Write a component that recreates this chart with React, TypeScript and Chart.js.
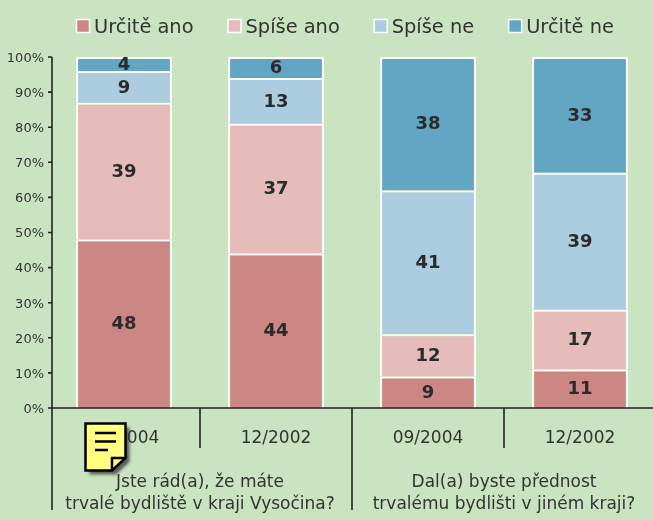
import React, { useEffect, useRef } from "react";
import { Chart, registerables } from "chart.js";

Chart.register(...registerables);

const categories = ["09/2004", "12/2002", "09/2004", "12/2002"];
const seriesNames = ["Určitě ano", "Spíše ano", "Spíše ne", "Určitě ne"];
const urciteAno = [48, 44, 9, 11];
const spiseAno = [39, 37, 12, 17];
const spiseNe = [9, 13, 41, 39];
const urciteNe = [4, 6, 38, 33];
const seriesColors = ["#cc8684", "#e5bcb9", "#abcddf", "#63a6c3"];
const questions = [
  ["Jste rád(a), že máte", "trvalé bydliště v kraji Vysočina?"],
  ["Dal(a) byste přednost", "trvalému bydlišti v jiném kraji?"],
];
const FONT = '"DejaVu Sans", sans-serif';
const INK = "#2b2b2b";

const furniture = {
  id: "furniture",
  afterDatasetsDraw(chart: any) {
    const { ctx, scales, data } = chart;
    const { x, y } = scales;
    const y0 = y.getPixelForValue(0);
    const axisX = x.getPixelForValue(-0.5) + 4;
    ctx.save();

    // data labels
    ctx.font = `bold 18px ${FONT}`;
    ctx.fillStyle = INK;
    ctx.textAlign = "center";
    ctx.textBaseline = "middle";
    data.datasets.forEach((ds: any, di: number) => {
      const meta = chart.getDatasetMeta(di);
      meta.data.forEach((bar: any, i: number) => {
        ctx.fillText(String(ds.data[i]), bar.x, (bar.y + bar.base) / 2 + 1);
      });
    });

    // axes
    ctx.strokeStyle = "#222";
    ctx.lineWidth = 1.6;
    ctx.beginPath();
    ctx.moveTo(axisX, y.getPixelForValue(100));
    ctx.lineTo(axisX, y0);
    y.ticks.forEach((t: any) => {
      const p = y.getPixelForValue(t.value);
      ctx.moveTo(axisX - 4, p);
      ctx.lineTo(axisX, p);
    });
    ctx.moveTo(axisX - 4, y0);
    ctx.lineTo(chart.width, y0);
    ctx.moveTo(axisX, y0);
    ctx.lineTo(axisX, 510);
    [0.5, 1.5, 2.5].forEach((v, i) => {
      const p = x.getPixelForValue(v);
      ctx.moveTo(p, y0);
      ctx.lineTo(p, i === 1 ? 510 : 448);
    });
    ctx.stroke();

    // group questions
    ctx.font = `17px ${FONT}`;
    ctx.fillStyle = "#333";
    questions.forEach((lines, gi) => {
      const cx = (x.getPixelForValue(gi * 2) + x.getPixelForValue(gi * 2 + 1)) / 2;
      lines.forEach((line, li) => ctx.fillText(line, cx, 482.5 + li * 22));
    });

    // legend
    ctx.font = `19.4px ${FONT}`;
    ctx.textAlign = "left";
    let lx = 76.5;
    data.datasets.forEach((ds: any) => {
      ctx.fillStyle = ds.backgroundColor;
      ctx.strokeStyle = "#fff";
      ctx.lineWidth = 1.5;
      ctx.fillRect(lx, 19.5, 13, 13);
      ctx.strokeRect(lx, 19.5, 13, 13);
      ctx.fillStyle = "#333";
      ctx.fillText(ds.label, lx + 17.5, 27.5);
      lx += 18 + ctx.measureText(ds.label).width + 34;
    });

    // note icon
    ctx.save();
    ctx.shadowColor = "rgba(50,50,50,0.75)";
    ctx.shadowBlur = 3;
    ctx.shadowOffsetX = 4;
    ctx.shadowOffsetY = 4;
    ctx.fillStyle = "#ffff80";
    ctx.beginPath();
    ctx.moveTo(85.5, 423.5);
    ctx.lineTo(125.5, 423.5);
    ctx.lineTo(125.5, 458);
    ctx.lineTo(112, 470.5);
    ctx.lineTo(85.5, 470.5);
    ctx.closePath();
    ctx.fill();
    ctx.restore();
    ctx.strokeStyle = "#000";
    ctx.lineWidth = 2.5;
    ctx.beginPath();
    ctx.moveTo(85.5, 423.5);
    ctx.lineTo(125.5, 423.5);
    ctx.lineTo(125.5, 458);
    ctx.lineTo(112, 470.5);
    ctx.lineTo(85.5, 470.5);
    ctx.closePath();
    ctx.moveTo(112, 470);
    ctx.lineTo(112, 458);
    ctx.lineTo(125, 458);
    ctx.moveTo(95, 433);
    ctx.lineTo(116, 433);
    ctx.moveTo(95, 441.5);
    ctx.lineTo(116, 441.5);
    ctx.moveTo(95, 450);
    ctx.lineTo(108, 450);
    ctx.stroke();
    ctx.restore();
  },
};

export default function App() {
  const ref = useRef<HTMLCanvasElement>(null);
  useEffect(() => {
    document.body.style.margin = "0";
    document.body.style.background = "#cae3c0";
    const values = [urciteAno, spiseAno, spiseNe, urciteNe];
    const chart = new Chart(ref.current!, {
      type: "bar",
      data: {
        labels: categories,
        datasets: values.map((v, i) => ({
          label: seriesNames[i],
          data: v,
          backgroundColor: seriesColors[i],
          borderColor: "#ffffff",
          borderWidth: 2,
          barPercentage: 0.63,
          categoryPercentage: 1,
        })),
      },
      plugins: [furniture],
      options: {
        responsive: false,
        animation: false,
        layout: { padding: { top: 57, right: 4, left: 0, bottom: 0 } },
        plugins: { legend: { display: false }, tooltip: { enabled: false } },
        scales: {
          x: {
            stacked: true,
            grid: { display: false, drawTicks: false },
            border: { display: false },
            afterFit(a: any) {
              a.height = 112;
            },
            ticks: {
              padding: 20,
              maxRotation: 0,
              font: { family: FONT, size: 17 },
              color: "#333",
            },
          },
          y: {
            stacked: true,
            min: 0,
            max: 100,
            grid: { display: false, drawTicks: false },
            border: { display: false },
            afterFit(a: any) {
              a.width = 48;
            },
            ticks: {
              stepSize: 10,
              padding: 4,
              labelOffset: 1.5,
              callback: (v: any) => `${v}%`,
              font: { family: FONT, size: 13 },
              color: "#333",
            },
          },
        },
      },
    });
    return () => chart.destroy();
  }, []);
  return (
    <div style={{ width: 653, height: 520, overflow: "hidden", position: "relative", background: "#cae3c0" }}>
      <canvas ref={ref} width={660} height={520} style={{ display: "block", position: "absolute", left: 0, top: 0 }} />
    </div>
  );
}
